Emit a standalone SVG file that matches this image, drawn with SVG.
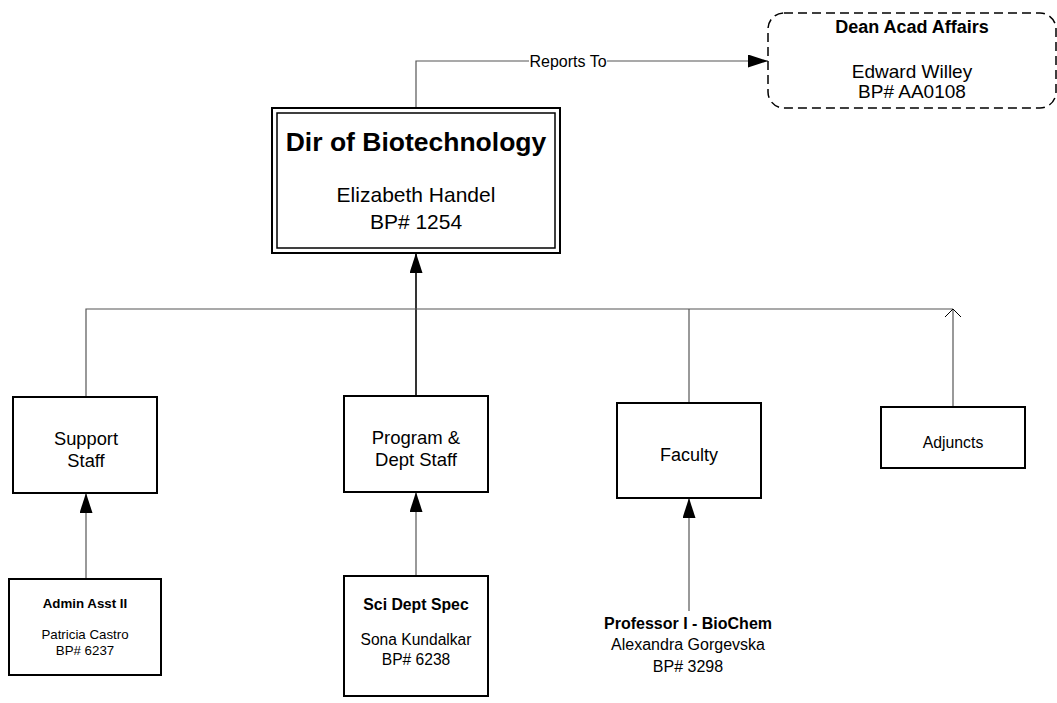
<svg xmlns="http://www.w3.org/2000/svg" width="1057" height="703" viewBox="0 0 1057 703">
<style>
text{font-family:"Liberation Sans",Arial,sans-serif;fill:#000;text-anchor:middle}
.box{fill:#fff;stroke:#000;stroke-width:2}
.ln{fill:none;stroke:#555;stroke-width:1.2}
.b{font-weight:bold}
</style>
<defs>
<marker id="fa" markerWidth="20" markerHeight="13" refX="20" refY="6.5" orient="auto" markerUnits="userSpaceOnUse" viewBox="0 0 20 13">
<path d="M0,0 L20,6.5 L0,13 Z" fill="#000"/>
</marker>
<marker id="oa" markerWidth="10" markerHeight="18" refX="9" refY="9" orient="auto" markerUnits="userSpaceOnUse" viewBox="0 0 10 18">
<path d="M1,1 L9,9 L1,17" fill="none" stroke="#000" stroke-width="1"/>
</marker>
</defs>
<rect width="1057" height="703" fill="#fff"/>
<g id="connectors">
<path class="ln" d="M416,108 V61 H768" marker-end="url(#fa)"/>
<path class="ln" d="M416,396 V253" marker-end="url(#fa)" style="stroke:#000;stroke-width:1.6"/>
<path class="ln" d="M86,397 V309 H953"/>
<path class="ln" d="M689,403 V309"/>
<path class="ln" d="M953,407 V309" marker-end="url(#oa)"/>
<path class="ln" d="M86,579 V493" marker-end="url(#fa)"/>
<path class="ln" d="M416,576 V492" marker-end="url(#fa)"/>
<path class="ln" d="M689,611 V498" marker-end="url(#fa)"/>
<rect x="529" y="52" width="78" height="18" fill="#fff"/>
<text x="568" y="67" font-size="16">Reports To</text>
</g>
<g id="dean">
<rect x="768" y="13" width="288" height="95" rx="16" ry="16" fill="#fff" stroke="#000" stroke-width="1.5" stroke-dasharray="9,5"/>
<text x="912" y="33" font-size="18" class="b">Dean Acad Affairs</text>
<text x="912" y="78" font-size="19">Edward Willey</text>
<text x="912" y="98" font-size="19">BP# AA0108</text>
</g>
<g id="dir">
<rect x="272" y="108" width="288" height="145" fill="#fff" stroke="#000" stroke-width="2"/>
<rect x="277" y="113" width="278" height="135" fill="none" stroke="#000" stroke-width="1.5"/>
<text x="416" y="151" font-size="26.5" class="b">Dir of Biotechnology</text>
<text x="416" y="202" font-size="21">Elizabeth Handel</text>
<text x="416" y="229" font-size="21">BP# 1254</text>
</g>
<g id="support">
<rect class="box" x="13" y="397" width="144" height="96"/>
<text x="86" y="445" font-size="18.3">Support</text>
<text x="86" y="467" font-size="18.3">Staff</text>
</g>
<g id="program">
<rect class="box" x="344" y="396" width="144" height="96"/>
<text x="416" y="444" font-size="18.5">Program &amp;</text>
<text x="416" y="466" font-size="18.5">Dept Staff</text>
</g>
<g id="faculty">
<rect class="box" x="617" y="403" width="144" height="95"/>
<text x="689" y="461" font-size="18">Faculty</text>
</g>
<g id="adjuncts">
<rect class="box" x="881" y="407" width="144" height="61"/>
<text x="953" y="448" font-size="15.8">Adjuncts</text>
</g>
<g id="admin">
<rect class="box" x="9" y="579" width="152" height="96"/>
<text x="85" y="608" font-size="13.3" class="b">Admin Asst II</text>
<text x="85" y="639" font-size="13.3">Patricia Castro</text>
<text x="85" y="655" font-size="13.3">BP# 6237</text>
</g>
<g id="sci">
<rect class="box" x="344" y="576" width="144" height="120"/>
<text x="416" y="610" font-size="15.8" class="b">Sci Dept Spec</text>
<text x="416" y="645" font-size="15.6">Sona Kundalkar</text>
<text x="416" y="665" font-size="15.6">BP# 6238</text>
</g>
<g id="professor">
<text x="688" y="629" font-size="16" class="b">Professor I - BioChem</text>
<text x="688" y="650" font-size="16">Alexandra Gorgevska</text>
<text x="688" y="672" font-size="16">BP# 3298</text>
</g>
</svg>
